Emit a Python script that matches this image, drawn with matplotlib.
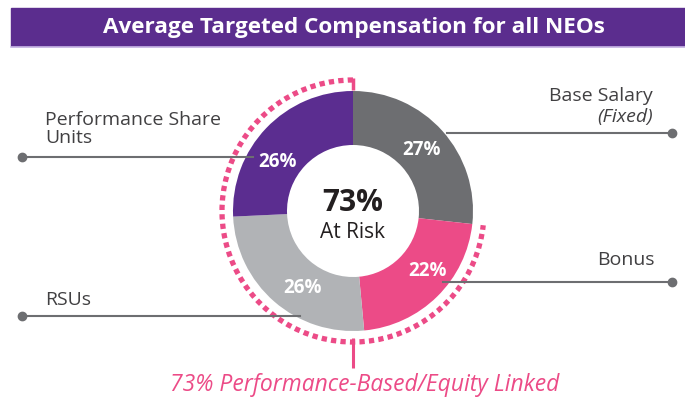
import numpy as np
import matplotlib
matplotlib.use("Agg")
import matplotlib.pyplot as plt
from matplotlib.patches import Arc, Rectangle

# data
labels = ["Base Salary", "Bonus", "RSUs", "Performance Share Units"]
values = [27, 22, 26, 26]
colors = ["#6d6e71", "#ec4b87", "#b1b3b6", "#5b2d90"]
at_risk = 73
title = "Average Targeted Compensation for all NEOs"

plt.rcParams['font.family'] = ['Open Sans', 'DejaVu Sans']

W, H = 685, 400
fig = plt.figure(figsize=(W / 100, H / 100), dpi=100)
ax = fig.add_axes([0, 0, 1, 1])


def py(y):
    # pixel row (from top) -> data y
    return H - y


cx, cy = 353, py(211)
r_out, r_in = 120, 66
pink = "#ec4b87"
grey = "#6d6e71"
txt = "#414042"

# title bar
ax.add_patch(Rectangle((11, py(46)), W - 11, 38, color="#5b2d8e", zorder=1))
ax.plot([11, W], [py(47), py(47)], color="#c9b8e6", lw=1.2)
ax.text(354, py(27), title, color="white", fontsize=16.2, fontweight="bold",
        ha="center", va="center")

# donut
wedges, texts, autotexts = ax.pie(
    values, colors=colors, startangle=90, counterclock=False,
    radius=r_out, center=(cx, cy), frame=True,
    wedgeprops=dict(width=r_out - r_in, linewidth=0),
    autopct=lambda p: f"{p:.0f}%", pctdistance=0.775,
    textprops=dict(color="white", fontsize=13.5, fontweight="bold"))
ax.set_xlim(0, W)
ax.set_ylim(0, H)
ax.set_aspect('equal')
ax.axis('off')

# nudge the percentage labels to where the original puts them
pct_pos = [(422, 150), (428, 271), (303, 288), (278, 162)]
for t, (x, y) in zip(autotexts, pct_pos):
    t.set_position((x, py(y)))

ax.text(cx, py(203), f"{at_risk}%", fontsize=21.5, fontweight="bold",
        color="#231f20", ha="center", va="center")
ax.text(cx, py(233), "At Risk", fontsize=15, color="#231f20",
        ha="center", va="center")

# dotted ring round the at-risk part
span = 360 * sum(values[1:]) / sum(values)
ring = Arc((cx, cy), 2 * 131, 2 * 131, theta1=90, theta2=90 + span,
           color=pink, lw=3.8, linestyle=(0, (1, 0.8)))
ax.add_patch(ring)
ax.plot([cx, cx], [py(78), py(90)], color=pink, lw=2.5, solid_capstyle="butt")
ax.plot([cx, cx], [py(338), py(368)], color=pink, lw=2.2, solid_capstyle="butt")
ax.text(cx + 12, py(385), f"{at_risk}% Performance-Based/Equity Linked",
        color=pink, fontsize=16.5, style="italic", ha="center", va="center")

# leader lines
leaders = [
    ((447, 133), (672, 133)),
    ((443, 282), (672, 282)),
    ((300, 316), (22, 316)),
    ((253, 157), (22, 157)),
]
for (x0, y0), (x1, y1) in leaders:
    ax.plot([x0, x1], [py(y0), py(y1)], color=grey, lw=1.5)
    ax.plot(x1, py(y1), "o", color=grey, ms=6)

fs = 14
ax.text(653, py(96), "Base Salary", fontsize=fs, color=txt,
        ha="right", va="center")
ax.text(653, py(117), "(Fixed)", fontsize=fs, color=txt,
        style="italic", ha="right", va="center")
ax.text(655, py(260), labels[1], fontsize=fs, color=txt,
        ha="right", va="center")
ax.text(45, py(300), labels[2], fontsize=fs, color=txt,
        ha="left", va="center")
ax.text(45, py(129), "Performance Share\nUnits", fontsize=fs, color=txt,
        ha="left", va="center", linespacing=0.95)

fig.savefig("out.png", dpi=100)
